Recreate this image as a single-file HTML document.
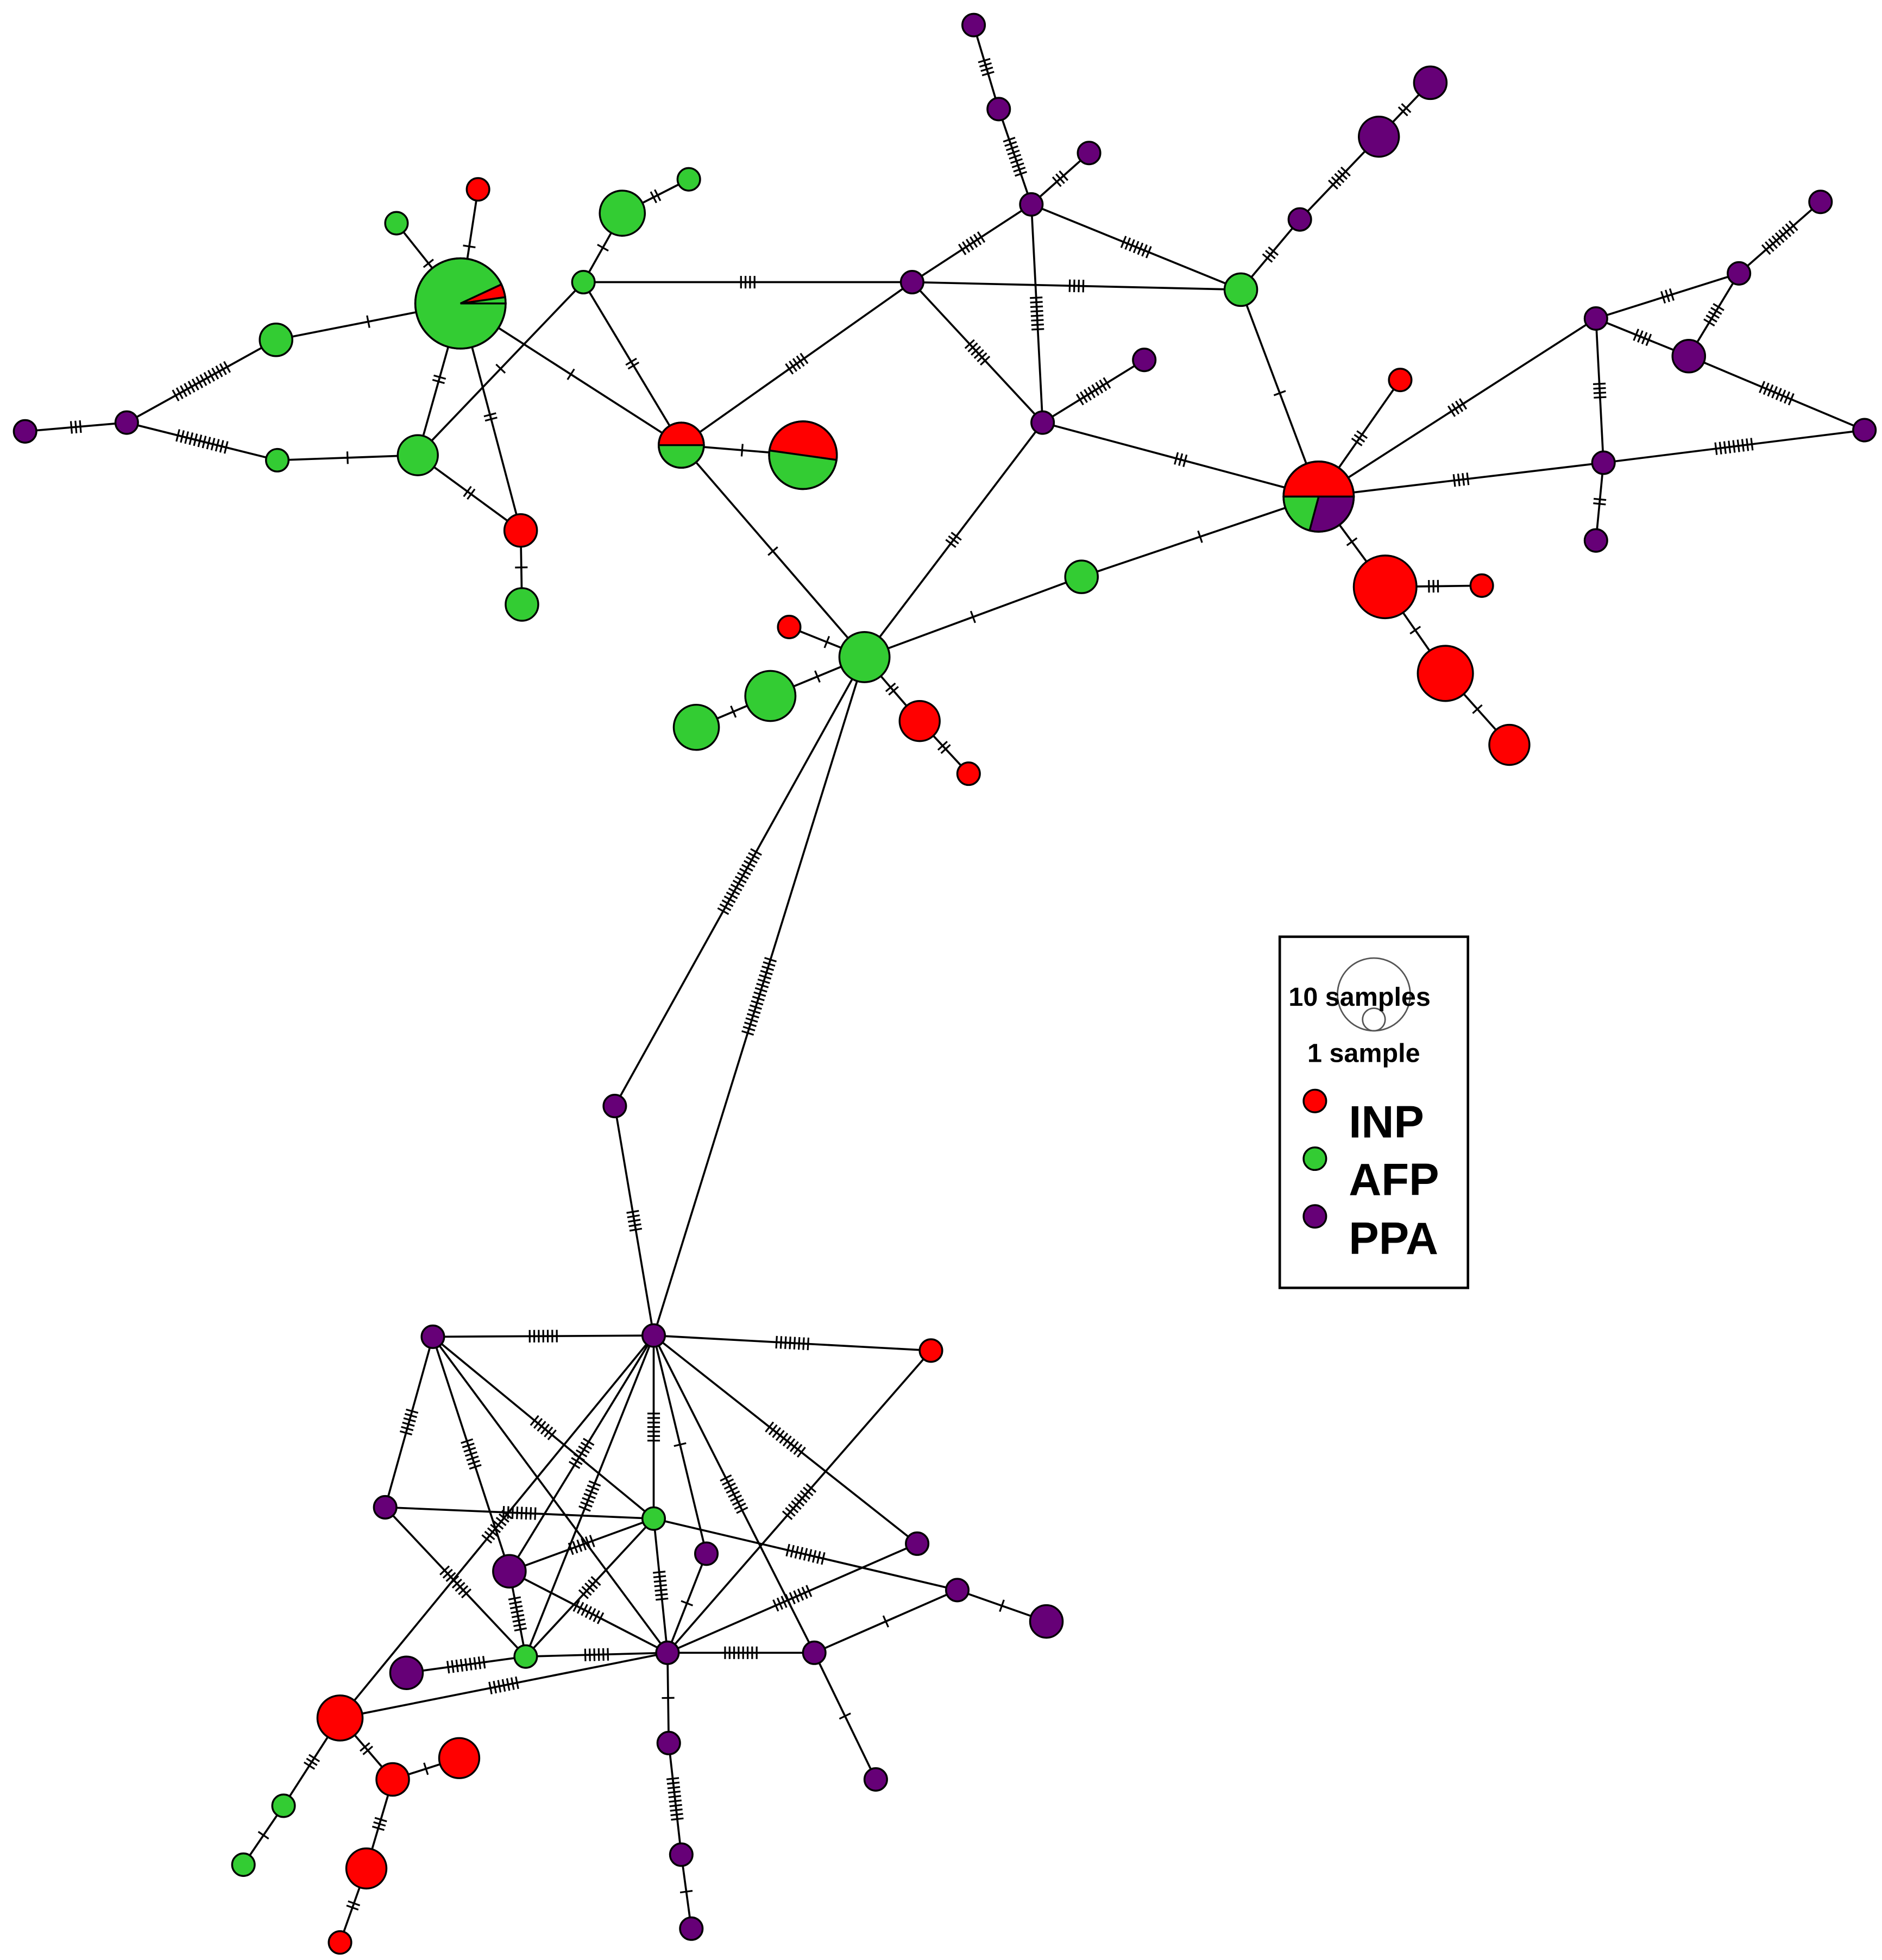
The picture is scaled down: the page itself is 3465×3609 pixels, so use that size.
<!DOCTYPE html>
<html><head><meta charset="utf-8"><style>
html,body{margin:0;padding:0;background:#fff;}
svg{display:block;}
</style></head><body>
<svg id="s" width="3465" height="3609" viewBox="0 0 1500 1563" preserveAspectRatio="none" xmlns="http://www.w3.org/2000/svg">
<rect x="0" y="0" width="1500" height="1563" fill="#fff"/>
<g id="edges" stroke="#000" stroke-width="1.6" fill="none"></g>
<g id="nodes" stroke="#000" stroke-width="1.5"></g>
<g id="legend">
<rect x="1020" y="747" width="150" height="280" fill="#fff" stroke="#000" stroke-width="2"/>
<circle cx="1095" cy="793" r="29" fill="none" stroke="#555" stroke-width="1.2"/>
<circle cx="1095" cy="813" r="9" fill="none" stroke="#555" stroke-width="1.2"/>
<text x="1027" y="802" font-family="Liberation Sans, sans-serif" font-weight="bold" font-size="21" fill="#000">10 samples</text>
<text x="1042" y="847" font-family="Liberation Sans, sans-serif" font-weight="bold" font-size="21" fill="#000">1 sample</text>
<circle cx="1048" cy="878" r="9" fill="#ff0000" stroke="#000" stroke-width="1.5"/>
<circle cx="1048" cy="924" r="9" fill="#33cc33" stroke="#000" stroke-width="1.5"/>
<circle cx="1048" cy="970" r="9" fill="#660077" stroke="#000" stroke-width="1.5"/>
<text x="1075" y="907" font-family="Liberation Sans, sans-serif" font-weight="bold" font-size="36" fill="#000">INP</text>
<text x="1075" y="953" font-family="Liberation Sans, sans-serif" font-weight="bold" font-size="36" fill="#000">AFP</text>
<text x="1075" y="1000" font-family="Liberation Sans, sans-serif" font-weight="bold" font-size="36" fill="#000">PPA</text>
</g>
</svg>
<script>
var R='#ff0000',G='#33cc33',P='#660077';
var N={
A:[367,242,36,'pieA'],r381:[381,151,9,R],g316:[316,178,9,G],g220:[220,271,13,G],p101:[101,337,9,P],p20:[20,344,9,P],
g221:[221,367,9,G],g333:[333,363,16,G],r415:[415,423,13,R],g416:[416,482,13,G],g465:[465,225,9,G],g496:[496,170,18,G],
g549:[549,143,9,G],q543:[543,355,18,'pie543'],q640:[640,363,27,'pie640'],p727:[727,225,9,P],p822:[822,163,9,P],
p796:[796,87,9,P],p776:[776,20,9,P],p868:[868,122,9,P],g989:[989,231,13,G],p1036:[1036,175,9,P],p1099:[1099,109,16,P],
p1140:[1140,66,13,P],p831:[831,337,9,P],p912:[912,287,9,P],q1053:[1051,396,28,'pie1053'],r1116:[1116,303,9,R],
p1272:[1272,254,9,P],p1386:[1386,218,9,P],p1451:[1451,161,9,P],p1346:[1346,284,13,P],p1486:[1486,343,9,P],
p1278:[1278,369,9,P],p1272b:[1272,431,9,P],r1104:[1104,468,25,R],r1181:[1181,467,9,R],r1152:[1152,537,22,R],
r1203:[1203,594,16,R],g862:[862,460,13,G],g689:[689,524,20,G],r629:[629,500,9,R],g614:[614,555,20,G],g555:[555,580,18,G],
r733:[733,575,16,R],r772:[772,617,9,R],p490:[490,882,9,P],
p520:[521,1065,9,P],p345:[345,1066,9,P],r740:[742,1077,9,R],p308:[307,1202,9,P],g520:[521,1211,9,G],p405:[406,1253,13,P],
p562:[563,1239,9,P],p729:[731,1231,9,P],p760:[763,1268,9,P],p831b:[834,1293,13,P],g420:[419,1321,9,G],p531:[532,1318,9,P],
p647:[649,1318,9,P],p324:[324,1334,13,P],r271:[271,1370,18,R],r313:[313,1419,13,R],r366:[366,1402,16,R],g226:[226,1440,9,G],
g194:[194,1487,9,G],r292:[292,1490,16,R],r271b:[271,1549,9,R],p533:[533,1390,9,P],p543:[543,1479,9,P],p551:[551,1538,9,P],
p698:[698,1419,9,P]};
var E=[['A','r381',1],['A','g316',1],['A','g220',1],['g220','p101',14],['p101','p20',3],['p101','g221',12],['g221','g333',1],
['g333','A',2],['g333','r415',2],['A','r415',2],['r415','g416',1],['g333','g465',1],['A','q543',1],['g465','q543',2],
['g465','g496',1],['g496','g549',2],['g465','p727',4],['q543','q640',1],['q543','p727',5],['q543','g689',1],['p727','p822',6],
['p727','g989',4],['p727','p831',6],['p822','p796',9],['p796','p776',4],['p822','p868',3],['p822','g989',7],['p822','p831',8],
['p831','p912',8],['p831','q1053',3],['p831','g689',3],['g989','p1036',3],['g989','q1053',1],['p1036','p1099',5],['p1099','p1140',2],
['q1053','r1116',3],['q1053','p1272',4],['q1053','p1278',4],['p1272','p1386',3],['p1386','p1451',9],['p1272','p1346',4],
['p1346','p1386',5],['p1346','p1486',8],['p1486','p1278',9],['p1272','p1278',4],['p1278','p1272b',2],['q1053','r1104',1],
['r1104','r1181',3],['r1104','r1152',1],['r1152','r1203',1],['q1053','g862',1],['g862','g689',1],['g689','r629',1],['g689','g614',1],
['g614','g555',1],['g689','r733',2],['r733','r772',2],['g689','p490',16],['g689','p520',18],['p490','p520',5],
['p520','p345',7],['p520','r740',8],['p345','p308',6],['p345','p405',7],['p345','g520',6],['p345','p531',0],['p520','p405',7],
['p520','g420',7],['p520','g520',7],['p520','p562',1],['p520','p729',10],['p520','p647',9],['p520','r271',8],['r740','p531',9],
['p308','g520',8],['g520','p760',9],['p308','g420',8],['p405','g520',6],['p405','p531',7],['p405','g420',8],['g420','p324',9],
['g420','p531',6],['g420','g520',5],['r271','p531',7],['p531','g520',7],['p531','p562',1],['p531','p729',9],['p531','p647',8],
['p531','p533',1],['p647','p760',1],['p760','p831b',1],['p647','p698',1],
['p533','p543',10],['p543','p551',1],['r271','r313',2],['r313','r366',1],['r313','r292',3],
['r292','r271b',2],['r271','g226',3],['g226','g194',1]];
var ns='http://www.w3.org/2000/svg',eg=document.getElementById('edges'),ng=document.getElementById('nodes');
function el(t,a,p){var e=document.createElementNS(ns,t);for(var k in a)e.setAttribute(k,a[k]);p.appendChild(e);return e;}
E.forEach(function(e){var a=N[e[0]],b=N[e[1]];
el('line',{x1:a[0],y1:a[1],x2:b[0],y2:b[1]},eg);
var n=e[2];if(!n)return;var dx=b[0]-a[0],dy=b[1]-a[1],L=Math.hypot(dx,dy),ux=dx/L,uy=dy/L,px=-uy,py=ux;
var mx=(a[0]+b[0])/2,my=(a[1]+b[1])/2,sp=3.6;
for(var i=0;i<n;i++){var o=(i-(n-1)/2)*sp,cx=mx+ux*o,cy=my+uy*o;
el('line',{x1:cx+px*5,y1:cy+py*5,x2:cx-px*5,y2:cy-py*5,'stroke-width':1.4},eg);}});
function wedge(cx,cy,r,a0,a1,c){var t0=a0*Math.PI/180,t1=a1*Math.PI/180,lg=(a1-a0)>180?1:0;
el('path',{d:'M'+cx+','+cy+' L'+(cx+r*Math.cos(t0))+','+(cy+r*Math.sin(t0))+' A'+r+','+r+' 0 '+lg+' 1 '+(cx+r*Math.cos(t1))+','+(cy+r*Math.sin(t1))+' Z',fill:c},ng);}
var pies={pieA:[[0,335,G],[335,352,R],[352,360,G]],pie543:[[180,360,R],[0,180,G]],pie640:[[188,368,R],[8,188,G]],
pie1053:[[180,360,R],[0,105,P],[105,180,G]]};
for(var k in N){var n=N[k];if(pies[n[3]]){pies[n[3]].forEach(function(w){wedge(n[0],n[1],n[2],w[0],w[1],w[2]);});
el('circle',{cx:n[0],cy:n[1],r:n[2],fill:'none'},ng);}
else el('circle',{cx:n[0],cy:n[1],r:n[2],fill:n[3]},ng);}
</script>
</body></html>
